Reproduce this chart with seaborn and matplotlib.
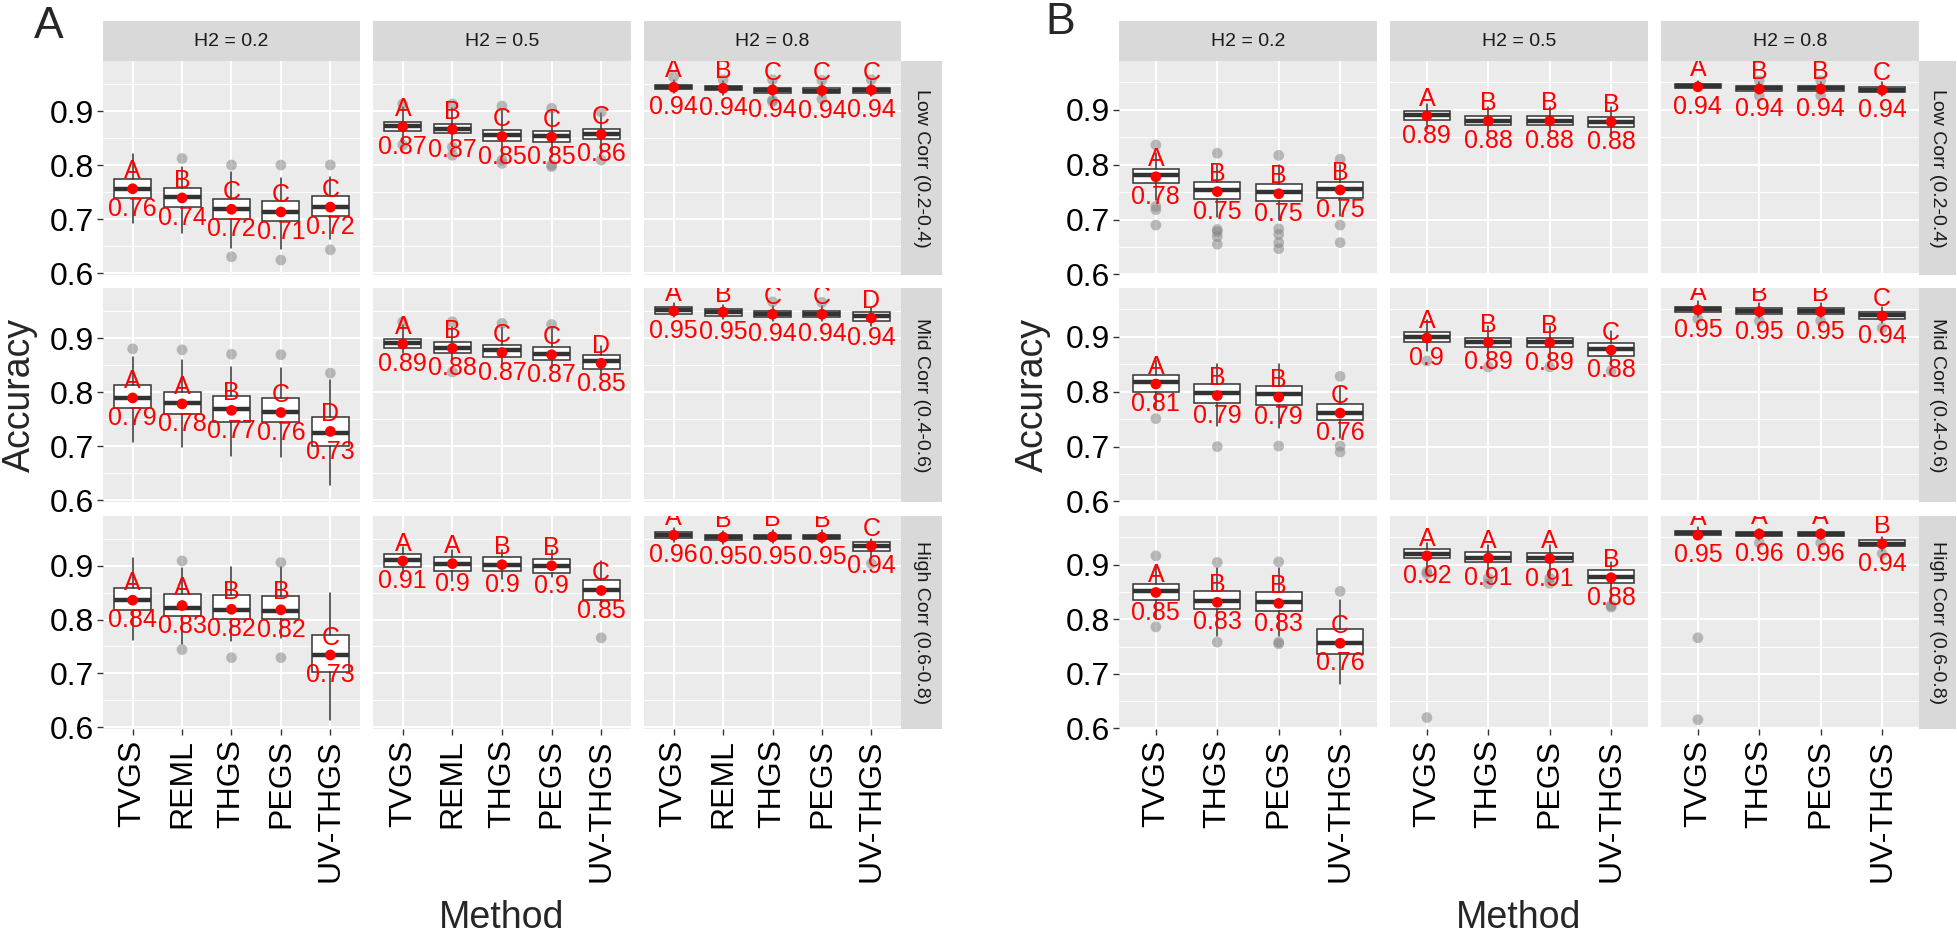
import matplotlib
matplotlib.use('Agg')
import matplotlib.pyplot as plt
import matplotlib.transforms as mtransforms
import seaborn as sns

# Facet labels
h2_levels = ['H2 = 0.2', 'H2 = 0.5', 'H2 = 0.8']
corr_levels = ['Low Corr (0.2-0.4)', 'Mid Corr (0.4-0.6)', 'High Corr (0.6-0.8)']

# Panel A  (rows = corr level, cols = H2, inner = method)
methods_a = ['TVGS', 'REML', 'THGS', 'PEGS', 'UV-THGS']
a_q1 = [[[0.739, 0.722, 0.700, 0.697, 0.706], [0.863, 0.859, 0.845, 0.843, 0.848], [0.941, 0.938, 0.933, 0.933, 0.933]],
        [[0.770, 0.759, 0.745, 0.745, 0.700], [0.881, 0.872, 0.865, 0.859, 0.843], [0.944, 0.941, 0.939, 0.939, 0.931]],
        [[0.817, 0.806, 0.801, 0.801, 0.703], [0.897, 0.891, 0.890, 0.886, 0.836], [0.952, 0.948, 0.949, 0.949, 0.928]]]
a_med = [[[0.756, 0.740, 0.718, 0.713, 0.722], [0.872, 0.867, 0.855, 0.853, 0.857], [0.945, 0.942, 0.938, 0.937, 0.938]],
         [[0.789, 0.779, 0.768, 0.763, 0.724], [0.890, 0.882, 0.877, 0.870, 0.857], [0.951, 0.948, 0.944, 0.944, 0.940]],
         [[0.836, 0.821, 0.817, 0.816, 0.734], [0.910, 0.904, 0.902, 0.900, 0.855], [0.958, 0.953, 0.954, 0.954, 0.937]]]
a_q3 = [[[0.774, 0.757, 0.737, 0.733, 0.743], [0.880, 0.876, 0.865, 0.863, 0.867], [0.948, 0.946, 0.943, 0.942, 0.943]],
        [[0.813, 0.800, 0.792, 0.789, 0.754], [0.898, 0.893, 0.887, 0.883, 0.869], [0.957, 0.954, 0.950, 0.950, 0.948]],
        [[0.858, 0.847, 0.845, 0.843, 0.771], [0.922, 0.917, 0.916, 0.913, 0.874], [0.963, 0.957, 0.958, 0.958, 0.944]]]
a_lo = [[[0.693, 0.675, 0.646, 0.644, 0.663], [0.840, 0.835, 0.815, 0.815, 0.822], [0.933, 0.930, 0.925, 0.926, 0.928]],
        [[0.708, 0.698, 0.681, 0.679, 0.628], [0.872, 0.860, 0.850, 0.845, 0.830], [0.938, 0.935, 0.932, 0.932, 0.922]],
        [[0.762, 0.755, 0.760, 0.765, 0.613], [0.885, 0.871, 0.875, 0.880, 0.830], [0.945, 0.940, 0.942, 0.942, 0.915]]]
a_hi = [[[0.820, 0.797, 0.787, 0.776, 0.778], [0.908, 0.905, 0.902, 0.900, 0.896], [0.957, 0.955, 0.955, 0.953, 0.955]],
        [[0.865, 0.859, 0.847, 0.845, 0.823], [0.924, 0.920, 0.920, 0.920, 0.885], [0.965, 0.962, 0.960, 0.960, 0.955]],
        [[0.915, 0.895, 0.897, 0.897, 0.850], [0.935, 0.930, 0.930, 0.930, 0.908], [0.970, 0.965, 0.966, 0.966, 0.950]]]
a_mean = [[[0.756, 0.739, 0.718, 0.713, 0.722], [0.871, 0.866, 0.853, 0.852, 0.857], [0.944, 0.942, 0.939, 0.938, 0.939]],
          [[0.789, 0.778, 0.766, 0.762, 0.727], [0.889, 0.881, 0.873, 0.869, 0.853], [0.950, 0.948, 0.944, 0.944, 0.937]],
          [[0.836, 0.826, 0.819, 0.818, 0.734], [0.909, 0.904, 0.902, 0.900, 0.854], [0.957, 0.953, 0.954, 0.953, 0.937]]]
a_out = [[[[], [0.812], [0.800, 0.630], [0.800, 0.624], [0.800, 0.643]],
          [[0.913, 0.837], [0.913, 0.833, 0.818], [0.909, 0.809, 0.803], [0.905, 0.800, 0.797], [0.898, 0.809]],
          [[0.963], [0.958], [0.958, 0.920, 0.917], [0.957, 0.922], [0.958]]],
         [[[0.880], [0.878], [0.870], [0.869], [0.835]],
          [[0.930], [0.930, 0.837], [0.927], [0.925], []],
          [[], [], [0.967], [0.966], []]],
         [[[], [0.909, 0.744], [0.729], [0.906, 0.729], []],
          [[], [], [], [], [0.766]],
          [[], [], [], [], [0.904]]]]
a_letters = [['ABCCC', 'ABCCC', 'ABCCC'],
             ['AABCD', 'ABCCD', 'ABCCD'],
             ['AABBC', 'AABBC', 'ABBBC']]

# Panel B
methods_b = ['TVGS', 'THGS', 'PEGS', 'UV-THGS']
b_q1 = [[[0.767, 0.738, 0.733, 0.739], [0.882, 0.872, 0.872, 0.869], [0.940, 0.935, 0.935, 0.933]],
        [[0.800, 0.780, 0.775, 0.748], [0.890, 0.882, 0.882, 0.865], [0.945, 0.942, 0.942, 0.933]],
        [[0.836, 0.818, 0.815, 0.736], [0.913, 0.905, 0.905, 0.866], [0.955, 0.952, 0.952, 0.934]]]
b_med = [[[0.782, 0.753, 0.751, 0.755], [0.890, 0.880, 0.880, 0.878], [0.943, 0.939, 0.939, 0.937]],
         [[0.818, 0.798, 0.796, 0.762], [0.900, 0.890, 0.890, 0.877], [0.950, 0.947, 0.947, 0.939]],
         [[0.851, 0.833, 0.832, 0.756], [0.920, 0.913, 0.912, 0.877], [0.957, 0.956, 0.956, 0.938]]]
b_q3 = [[[0.793, 0.768, 0.765, 0.768], [0.897, 0.888, 0.888, 0.887], [0.947, 0.944, 0.944, 0.942]],
        [[0.831, 0.814, 0.811, 0.778], [0.909, 0.898, 0.898, 0.889], [0.955, 0.952, 0.952, 0.945]],
        [[0.865, 0.851, 0.849, 0.782], [0.929, 0.924, 0.922, 0.891], [0.962, 0.960, 0.960, 0.945]]]
b_lo = [[[0.736, 0.705, 0.700, 0.706], [0.865, 0.860, 0.860, 0.855], [0.935, 0.929, 0.929, 0.925]],
        [[0.770, 0.738, 0.734, 0.715], [0.875, 0.860, 0.860, 0.850], [0.937, 0.935, 0.935, 0.925]],
        [[0.800, 0.770, 0.770, 0.682], [0.895, 0.880, 0.880, 0.831], [0.948, 0.945, 0.945, 0.925]]]
b_hi = [[[0.821, 0.800, 0.800, 0.800], [0.910, 0.905, 0.905, 0.905], [0.953, 0.950, 0.950, 0.950]],
        [[0.858, 0.850, 0.850, 0.810], [0.930, 0.920, 0.920, 0.910], [0.965, 0.962, 0.962, 0.955]],
        [[0.895, 0.893, 0.893, 0.836], [0.940, 0.935, 0.935, 0.905], [0.968, 0.966, 0.966, 0.950]]]
b_mean = [[[0.778, 0.751, 0.747, 0.754], [0.889, 0.880, 0.880, 0.878], [0.942, 0.938, 0.938, 0.936]],
          [[0.814, 0.793, 0.790, 0.761], [0.898, 0.890, 0.889, 0.876], [0.949, 0.946, 0.946, 0.938]],
          [[0.849, 0.831, 0.829, 0.756], [0.916, 0.912, 0.911, 0.876], [0.954, 0.956, 0.956, 0.938]]]
b_out = [[[[0.836, 0.724, 0.718, 0.690], [0.821, 0.682, 0.678, 0.669, 0.655],
           [0.817, 0.683, 0.673, 0.658, 0.647], [0.810, 0.690, 0.658]],
          [[], [], [], []],
          [[], [0.953, 0.926], [0.953, 0.926], []]],
         [[[0.751], [0.700], [0.701], [0.828, 0.701, 0.690]],
          [[0.856], [0.845], [0.845], [0.838]],
          [[0.933], [0.929], [0.929], [0.916]]],
         [[[0.916, 0.786], [0.904, 0.758], [0.905, 0.758, 0.755], [0.851]],
          [[0.887, 0.883, 0.620], [0.875, 0.865], [0.875, 0.866], [0.825, 0.822]],
          [[0.766, 0.616], [0.940], [0.940], [0.920]]]]
b_letters = [['ABBB', 'ABBB', 'ABBC'],
             ['ABBC', 'ABBC', 'ABBC'],
             ['ABBC', 'AAAB', 'AAAB']]

# Layout (pixels)
W, H = 1958, 936
ROWS = [(61, 275), (288, 502), (516, 729)]
COLS_A = [(103, 360), (373, 631), (644, 901)]
COLS_B = [(1119, 1377), (1390, 1648), (1661, 1919)]
STRIP_TOP = (21, 61)

sns.set_style('darkgrid', {'axes.facecolor': '#EBEBEB', 'grid.color': 'white'})
plt.rcParams['font.family'] = ['Liberation Sans', 'DejaVu Sans']


def add_ax(fig, x0, x1, y0, y1):
    return fig.add_axes([x0 / W, 1 - y1 / H, (x1 - x0) / W, (y1 - y0) / H])


def strip(fig, x0, x1, y0, y1, text, rot=0):
    ax = add_ax(fig, x0, x1, y0, y1)
    ax.set_facecolor('#D9D9D9')
    ax.set_xticks([]), ax.set_yticks([])
    for s in ax.spines.values():
        s.set_visible(False)
    ax.text(0.5, 0.5, text, ha='center', va='center', rotation=rot,
            fontsize=14, color='#1A1A1A', transform=ax.transAxes)


def facet(fig, ax, methods, q1, med, q3, lo, hi, means, letters, outs, ylim, left, bottom):
    n = len(methods)
    pos = list(range(n))
    stats = [dict(q1=q1[i], med=med[i], q3=q3[i], whislo=lo[i], whishi=hi[i], fliers=[])
             for i in pos]
    ax.bxp(stats, positions=pos, widths=0.75, patch_artist=True, showfliers=False,
           showcaps=False, manage_ticks=False,
           boxprops=dict(facecolor='white', edgecolor='#333333', linewidth=1.1),
           medianprops=dict(color='#333333', linewidth=3.2, solid_capstyle='butt'),
           whiskerprops=dict(color='#333333', linewidth=1.1))
    ox = [i for i in pos for v in outs[i]]
    oy = [v for i in pos for v in outs[i]]
    if ox:
        sns.scatterplot(x=ox, y=oy, color='#7F7F7F', alpha=0.5, s=60,
                        edgecolor='none', ax=ax, zorder=3)
    sns.scatterplot(x=pos, y=means, color='red', s=60, edgecolor='none', ax=ax, zorder=4)
    up = mtransforms.offset_copy(ax.transData, fig=fig, y=12.5, units='points')
    down = mtransforms.offset_copy(ax.transData, fig=fig, y=-14.5, units='points')
    for i in pos:
        ax.text(i, means[i], letters[i], transform=up, ha='center', va='center',
                color='red', fontsize=18, clip_on=True, zorder=5)
        ax.text(i, means[i], f'{round(means[i], 2):g}', transform=down, ha='center',
                va='center', color='red', fontsize=18, clip_on=True, zorder=5)
    ax.set_xlim(-0.6, n - 0.4)
    ax.set_ylim(*ylim)
    ax.set_xticks(pos)
    ax.set_xticklabels(methods, rotation=90, fontsize=23, color='black')
    ax.set_yticks([0.6, 0.7, 0.8, 0.9])
    ax.set_yticklabels(['0.6', '0.7', '0.8', '0.9'], fontsize=23, color='black')
    ax.set_yticks([0.65, 0.75, 0.85, 0.95], minor=True)
    ax.grid(which='major', color='white', linewidth=1.4)
    ax.grid(which='minor', axis='y', color='white', linewidth=0.7)
    ax.set_axisbelow(True)
    for s in ax.spines.values():
        s.set_visible(False)
    ax.tick_params(which='minor', length=0)
    ax.tick_params(axis='y', which='major', left=left, labelleft=left, length=4.5,
                   width=1, color='#333333', pad=2)
    ax.tick_params(axis='x', which='major', bottom=bottom, labelbottom=bottom, length=4.5,
                   width=1, color='#333333', pad=3)


def panel(fig, cols, methods, q1, med, q3, lo, hi, means, letters, outs, ylim, strip_right):
    for c, (x0, x1) in enumerate(cols):
        strip(fig, x0, x1, STRIP_TOP[0], STRIP_TOP[1], h2_levels[c])
    for r, (y0, y1) in enumerate(ROWS):
        strip(fig, cols[-1][1], strip_right, y0, y1, corr_levels[r], rot=-90)
        for c, (x0, x1) in enumerate(cols):
            ax = add_ax(fig, x0, x1, y0, y1)
            facet(fig, ax, methods, q1[r][c], med[r][c], q3[r][c], lo[r][c], hi[r][c],
                  means[r][c], letters[r][c], outs[r][c], ylim, c == 0, r == 2)


fig = plt.figure(figsize=(W / 100, H / 100), dpi=100)

panel(fig, COLS_A, methods_a, a_q1, a_med, a_q3, a_lo, a_hi, a_mean, a_letters, a_out,
      (0.5963, 0.9926), 942)
panel(fig, COLS_B, methods_b, b_q1, b_med, b_q3, b_lo, b_hi, b_mean, b_letters, b_out,
      (0.599, 0.989), 1956)

# Axis titles and panel tags
fig.text(20 / W, 1 - 395 / H, 'Accuracy', rotation=90, ha='center', va='center', fontsize=27)
fig.text(1033 / W, 1 - 395 / H, 'Accuracy', rotation=90, ha='center', va='center', fontsize=27)
fig.text(502 / W, 1 - 918 / H, 'Method', ha='center', va='center', fontsize=27)
fig.text(1519 / W, 1 - 918 / H, 'Method', ha='center', va='center', fontsize=27)
fig.text(49 / W, 1 - 26 / H, 'A', ha='center', va='center', fontsize=32)
fig.text(1060 / W, 1 - 23 / H, 'B', ha='center', va='center', fontsize=32)

fig.savefig('out.png', dpi=100)
